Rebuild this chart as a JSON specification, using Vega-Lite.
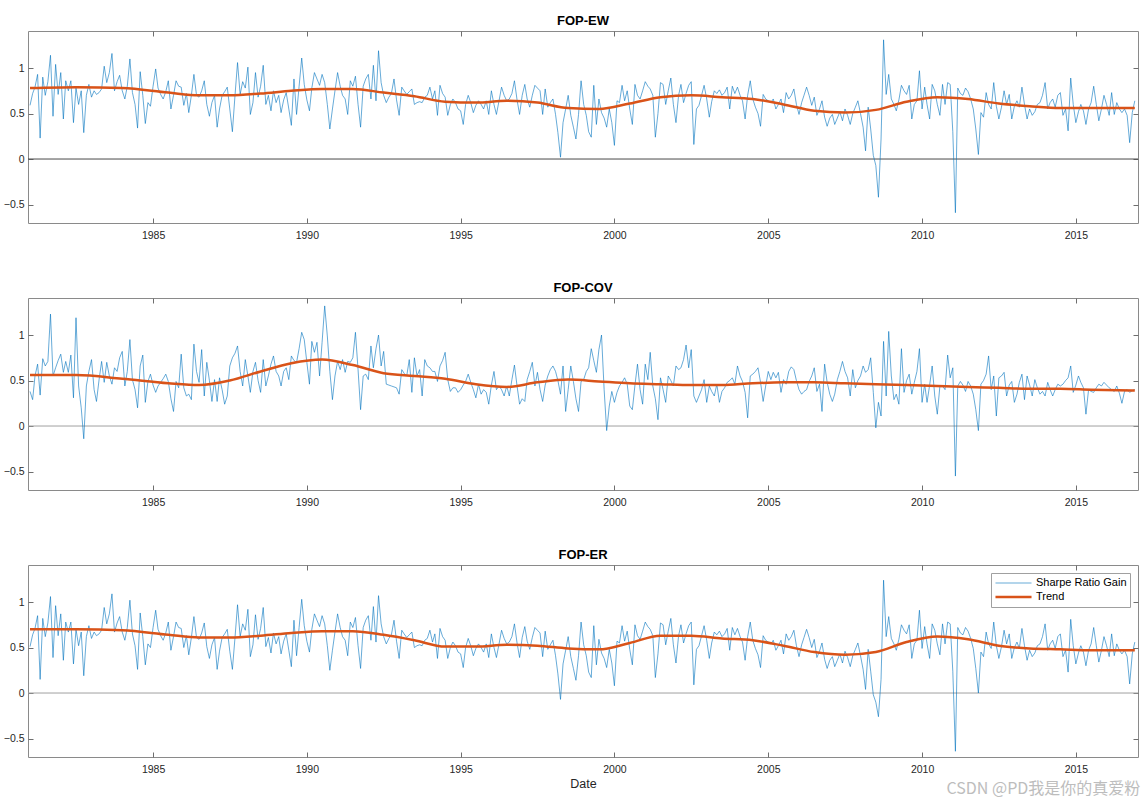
{
"$schema": "https://vega.github.io/schema/vega-lite/v6.json",
"background": "white",
"padding": {"left": 2, "top": 14, "right": 9, "bottom": 5},
"spacing": 40,
"title": {"text": "CSDN @PD我是你的真爱粉", "orient": "bottom", "anchor": "end", "offset": -10, "fontSize": 16, "color": "#bdbdbd", "font": "Noto Sans CJK SC", "fontWeight": "normal"},
"resolve": {"scale": {"color": "independent", "strokeWidth": "independent"}, "legend": {"color": "independent", "strokeWidth": "independent"}},
"config": {
 "view": {"stroke": "#8a8a8a", "strokeWidth": 1},
 "axis": {"labelFont": "Liberation Sans", "labelFontSize": 10.5, "labelColor": "#262626", "tickColor": "#6e6e6e", "domain": false, "grid": false, "tickSize": -5, "labelPadding": 9, "titleFont": "Liberation Sans", "titleFontSize": 12.5, "titleFontWeight": "normal", "titleColor": "#262626"},
 "axisX": {"labelPadding": 12},
 "title": {"font": "Liberation Sans", "fontSize": 13, "fontWeight": "bold", "color": "#000000", "offset": 3},
 "legend": {"labelFont": "Liberation Sans", "labelFontSize": 11, "labelColor": "#000000"}
},
"datasets": {
"m": [
{"d":"1981-01","a":0.59,"b":0.38,"c":0.51},{"d":"1981-02","a":0.72,"b":0.29,"c":0.64},{"d":"1981-03","a":0.79,"b":0.55,"c":0.71},{"d":"1981-04","a":0.93,"b":0.68,"c":0.85},{"d":"1981-05","a":0.23,"b":0.34,"c":0.15},{"d":"1981-06","a":0.90,"b":0.74,"c":0.82},{"d":"1981-07","a":0.70,"b":0.66,"c":0.62},{"d":"1981-08","a":0.85,"b":0.71,"c":0.77},{"d":"1981-09","a":1.14,"b":1.23,"c":1.06},{"d":"1981-10","a":0.47,"b":0.55,"c":0.39},{"d":"1981-11","a":1.04,"b":0.64,"c":0.96},{"d":"1981-12","a":0.71,"b":0.72,"c":0.63},
{"d":"1982-01","a":0.95,"b":0.79,"c":0.87},{"d":"1982-02","a":0.44,"b":0.59,"c":0.36},{"d":"1982-03","a":0.86,"b":0.71,"c":0.78},{"d":"1982-04","a":0.75,"b":0.59,"c":0.67},{"d":"1982-05","a":0.86,"b":0.78,"c":0.78},{"d":"1982-06","a":0.40,"b":0.31,"c":0.32},{"d":"1982-07","a":0.78,"b":1.19,"c":0.70},{"d":"1982-08","a":0.60,"b":0.44,"c":0.52},{"d":"1982-09","a":0.75,"b":0.20,"c":0.67},{"d":"1982-10","a":0.29,"b":-0.14,"c":0.19},{"d":"1982-11","a":0.70,"b":0.44,"c":0.62},{"d":"1982-12","a":0.82,"b":0.60,"c":0.74},
{"d":"1983-01","a":0.68,"b":0.73,"c":0.60},{"d":"1983-02","a":0.75,"b":0.40,"c":0.67},{"d":"1983-03","a":0.71,"b":0.27,"c":0.63},{"d":"1983-04","a":0.73,"b":0.51,"c":0.65},{"d":"1983-05","a":0.77,"b":0.71,"c":0.69},{"d":"1983-06","a":1.02,"b":0.48,"c":0.94},{"d":"1983-07","a":0.84,"b":0.70,"c":0.76},{"d":"1983-08","a":0.95,"b":0.55,"c":0.87},{"d":"1983-09","a":1.16,"b":0.46,"c":1.09},{"d":"1983-10","a":0.75,"b":0.64,"c":0.67},{"d":"1983-11","a":0.85,"b":0.60,"c":0.77},{"d":"1983-12","a":0.92,"b":0.75,"c":0.84},
{"d":"1984-01","a":0.75,"b":0.82,"c":0.67},{"d":"1984-02","a":0.66,"b":0.44,"c":0.58},{"d":"1984-03","a":0.80,"b":0.60,"c":0.72},{"d":"1984-04","a":1.10,"b":0.95,"c":1.02},{"d":"1984-05","a":0.73,"b":0.51,"c":0.65},{"d":"1984-06","a":0.60,"b":0.40,"c":0.52},{"d":"1984-07","a":0.34,"b":0.20,"c":0.26},{"d":"1984-08","a":0.96,"b":0.66,"c":0.88},{"d":"1984-09","a":0.70,"b":0.78,"c":0.62},{"d":"1984-10","a":0.39,"b":0.26,"c":0.31},{"d":"1984-11","a":0.62,"b":0.49,"c":0.54},{"d":"1984-12","a":0.58,"b":0.57,"c":0.50},
{"d":"1985-01","a":0.80,"b":0.45,"c":0.72},{"d":"1985-02","a":0.99,"b":0.37,"c":0.91},{"d":"1985-03","a":0.78,"b":0.44,"c":0.70},{"d":"1985-04","a":0.71,"b":0.48,"c":0.63},{"d":"1985-05","a":0.66,"b":0.52,"c":0.58},{"d":"1985-06","a":0.74,"b":0.57,"c":0.66},{"d":"1985-07","a":0.86,"b":0.49,"c":0.78},{"d":"1985-08","a":0.55,"b":0.30,"c":0.47},{"d":"1985-09","a":0.70,"b":0.16,"c":0.62},{"d":"1985-10","a":0.86,"b":0.49,"c":0.78},{"d":"1985-11","a":0.80,"b":0.42,"c":0.72},{"d":"1985-12","a":0.79,"b":0.79,"c":0.71},
{"d":"1986-01","a":0.59,"b":0.42,"c":0.50},{"d":"1986-02","a":0.72,"b":0.33,"c":0.63},{"d":"1986-03","a":0.51,"b":0.35,"c":0.42},{"d":"1986-04","a":0.70,"b":0.29,"c":0.61},{"d":"1986-05","a":0.93,"b":0.90,"c":0.84},{"d":"1986-06","a":0.70,"b":0.60,"c":0.61},{"d":"1986-07","a":0.68,"b":0.48,"c":0.59},{"d":"1986-08","a":0.75,"b":0.84,"c":0.66},{"d":"1986-09","a":0.86,"b":0.33,"c":0.77},{"d":"1986-10","a":0.60,"b":0.70,"c":0.51},{"d":"1986-11","a":0.47,"b":0.50,"c":0.38},{"d":"1986-12","a":0.62,"b":0.27,"c":0.53},
{"d":"1987-01","a":0.70,"b":0.51,"c":0.61},{"d":"1987-02","a":0.35,"b":0.27,"c":0.26},{"d":"1987-03","a":0.55,"b":0.53,"c":0.46},{"d":"1987-04","a":0.70,"b":0.40,"c":0.61},{"d":"1987-05","a":0.74,"b":0.24,"c":0.65},{"d":"1987-06","a":0.79,"b":0.33,"c":0.70},{"d":"1987-07","a":0.55,"b":0.66,"c":0.46},{"d":"1987-08","a":0.30,"b":0.75,"c":0.26},{"d":"1987-09","a":0.70,"b":0.80,"c":0.61},{"d":"1987-10","a":1.06,"b":0.88,"c":0.97},{"d":"1987-11","a":0.71,"b":0.60,"c":0.62},{"d":"1987-12","a":0.85,"b":0.44,"c":0.76},
{"d":"1988-01","a":0.78,"b":0.73,"c":0.69},{"d":"1988-02","a":1.01,"b":0.55,"c":0.92},{"d":"1988-03","a":0.49,"b":0.37,"c":0.40},{"d":"1988-04","a":0.62,"b":0.60,"c":0.53},{"d":"1988-05","a":0.95,"b":0.70,"c":0.86},{"d":"1988-06","a":0.68,"b":0.50,"c":0.59},{"d":"1988-07","a":0.80,"b":0.37,"c":0.71},{"d":"1988-08","a":1.03,"b":0.73,"c":0.94},{"d":"1988-09","a":0.60,"b":0.44,"c":0.51},{"d":"1988-10","a":0.70,"b":0.55,"c":0.61},{"d":"1988-11","a":0.53,"b":0.68,"c":0.44},{"d":"1988-12","a":0.75,"b":0.77,"c":0.66},
{"d":"1989-01","a":0.62,"b":0.60,"c":0.54},{"d":"1989-02","a":0.70,"b":0.55,"c":0.62},{"d":"1989-03","a":0.51,"b":0.44,"c":0.43},{"d":"1989-04","a":0.65,"b":0.60,"c":0.57},{"d":"1989-05","a":0.73,"b":0.64,"c":0.65},{"d":"1989-06","a":0.55,"b":0.51,"c":0.47},{"d":"1989-07","a":0.37,"b":0.77,"c":0.29},{"d":"1989-08","a":0.88,"b":0.72,"c":0.80},{"d":"1989-09","a":0.49,"b":0.70,"c":0.41},{"d":"1989-10","a":0.80,"b":0.85,"c":0.72},{"d":"1989-11","a":1.11,"b":1.03,"c":1.03},{"d":"1989-12","a":0.82,"b":0.95,"c":0.74},
{"d":"1990-01","a":0.65,"b":0.70,"c":0.57},{"d":"1990-02","a":0.53,"b":0.46,"c":0.45},{"d":"1990-03","a":0.78,"b":0.93,"c":0.70},{"d":"1990-04","a":0.95,"b":0.81,"c":0.87},{"d":"1990-05","a":0.88,"b":0.92,"c":0.80},{"d":"1990-06","a":0.81,"b":0.55,"c":0.73},{"d":"1990-07","a":0.93,"b":0.92,"c":0.85},{"d":"1990-08","a":0.84,"b":1.32,"c":0.76},{"d":"1990-09","a":0.60,"b":0.99,"c":0.52},{"d":"1990-10","a":0.33,"b":0.60,"c":0.25},{"d":"1990-11","a":0.55,"b":0.29,"c":0.47},{"d":"1990-12","a":0.75,"b":0.55,"c":0.67},
{"d":"1991-01","a":0.95,"b":0.71,"c":0.87},{"d":"1991-02","a":0.80,"b":0.62,"c":0.72},{"d":"1991-03","a":0.70,"b":0.73,"c":0.62},{"d":"1991-04","a":0.66,"b":0.59,"c":0.58},{"d":"1991-05","a":0.49,"b":0.71,"c":0.41},{"d":"1991-06","a":0.86,"b":0.70,"c":0.78},{"d":"1991-07","a":0.80,"b":0.75,"c":0.72},{"d":"1991-08","a":0.91,"b":1.03,"c":0.83},{"d":"1991-09","a":0.60,"b":0.62,"c":0.52},{"d":"1991-10","a":0.35,"b":0.18,"c":0.27},{"d":"1991-11","a":0.80,"b":0.55,"c":0.72},{"d":"1991-12","a":0.88,"b":0.57,"c":0.80},
{"d":"1992-01","a":0.93,"b":0.51,"c":0.85},{"d":"1992-02","a":0.66,"b":0.88,"c":0.58},{"d":"1992-03","a":1.03,"b":0.64,"c":0.95},{"d":"1992-04","a":0.64,"b":0.85,"c":0.56},{"d":"1992-05","a":1.19,"b":1.00,"c":1.07},{"d":"1992-06","a":0.84,"b":0.66,"c":0.76},{"d":"1992-07","a":0.70,"b":0.82,"c":0.62},{"d":"1992-08","a":0.62,"b":0.46,"c":0.54},{"d":"1992-09","a":0.68,"b":0.45,"c":0.60},{"d":"1992-10","a":0.72,"b":0.44,"c":0.64},{"d":"1992-11","a":0.88,"b":0.43,"c":0.80},{"d":"1992-12","a":0.65,"b":0.42,"c":0.57},
{"d":"1993-01","a":0.48,"b":0.35,"c":0.38},{"d":"1993-02","a":0.79,"b":0.62,"c":0.69},{"d":"1993-03","a":0.75,"b":0.58,"c":0.65},{"d":"1993-04","a":0.71,"b":0.55,"c":0.61},{"d":"1993-05","a":0.74,"b":0.73,"c":0.64},{"d":"1993-06","a":0.77,"b":0.37,"c":0.67},{"d":"1993-07","a":0.60,"b":0.75,"c":0.50},{"d":"1993-08","a":0.62,"b":0.55,"c":0.52},{"d":"1993-09","a":0.63,"b":0.62,"c":0.53},{"d":"1993-10","a":0.62,"b":0.33,"c":0.52},{"d":"1993-11","a":0.68,"b":0.73,"c":0.58},{"d":"1993-12","a":0.70,"b":0.66,"c":0.60},
{"d":"1994-01","a":0.79,"b":0.64,"c":0.69},{"d":"1994-02","a":0.66,"b":0.60,"c":0.56},{"d":"1994-03","a":0.75,"b":0.60,"c":0.65},{"d":"1994-04","a":0.48,"b":0.49,"c":0.38},{"d":"1994-05","a":0.81,"b":0.66,"c":0.71},{"d":"1994-06","a":0.72,"b":0.72,"c":0.62},{"d":"1994-07","a":0.68,"b":0.81,"c":0.58},{"d":"1994-08","a":0.48,"b":0.51,"c":0.38},{"d":"1994-09","a":0.60,"b":0.38,"c":0.50},{"d":"1994-10","a":0.66,"b":0.42,"c":0.56},{"d":"1994-11","a":0.62,"b":0.42,"c":0.52},{"d":"1994-12","a":0.55,"b":0.37,"c":0.45},
{"d":"1995-01","a":0.53,"b":0.40,"c":0.43},{"d":"1995-02","a":0.38,"b":0.45,"c":0.28},{"d":"1995-03","a":0.60,"b":0.49,"c":0.50},{"d":"1995-04","a":0.70,"b":0.57,"c":0.60},{"d":"1995-05","a":0.62,"b":0.48,"c":0.52},{"d":"1995-06","a":0.51,"b":0.40,"c":0.41},{"d":"1995-07","a":0.59,"b":0.31,"c":0.49},{"d":"1995-08","a":0.64,"b":0.46,"c":0.54},{"d":"1995-09","a":0.60,"b":0.35,"c":0.50},{"d":"1995-10","a":0.55,"b":0.40,"c":0.45},{"d":"1995-11","a":0.64,"b":0.37,"c":0.54},{"d":"1995-12","a":0.49,"b":0.24,"c":0.39},
{"d":"1996-01","a":0.75,"b":0.45,"c":0.65},{"d":"1996-02","a":0.60,"b":0.60,"c":0.50},{"d":"1996-03","a":0.49,"b":0.40,"c":0.39},{"d":"1996-04","a":0.64,"b":0.44,"c":0.54},{"d":"1996-05","a":0.79,"b":0.40,"c":0.69},{"d":"1996-06","a":0.70,"b":0.33,"c":0.60},{"d":"1996-07","a":0.64,"b":0.44,"c":0.54},{"d":"1996-08","a":0.66,"b":0.33,"c":0.56},{"d":"1996-09","a":0.72,"b":0.51,"c":0.62},{"d":"1996-10","a":0.86,"b":0.67,"c":0.76},{"d":"1996-11","a":0.65,"b":0.44,"c":0.55},{"d":"1996-12","a":0.49,"b":0.24,"c":0.39},
{"d":"1997-01","a":0.70,"b":0.30,"c":0.61},{"d":"1997-02","a":0.82,"b":0.27,"c":0.73},{"d":"1997-03","a":0.66,"b":0.51,"c":0.57},{"d":"1997-04","a":0.57,"b":0.60,"c":0.48},{"d":"1997-05","a":0.70,"b":0.70,"c":0.61},{"d":"1997-06","a":0.81,"b":0.44,"c":0.72},{"d":"1997-07","a":0.78,"b":0.59,"c":0.69},{"d":"1997-08","a":0.75,"b":0.40,"c":0.66},{"d":"1997-09","a":0.49,"b":0.27,"c":0.40},{"d":"1997-10","a":0.77,"b":0.45,"c":0.68},{"d":"1997-11","a":0.57,"b":0.55,"c":0.48},{"d":"1997-12","a":0.62,"b":0.62,"c":0.53},
{"d":"1998-01","a":0.66,"b":0.66,"c":0.58},{"d":"1998-02","a":0.49,"b":0.60,"c":0.41},{"d":"1998-03","a":0.29,"b":0.50,"c":0.21},{"d":"1998-04","a":0.02,"b":0.35,"c":-0.07},{"d":"1998-05","a":0.40,"b":0.66,"c":0.32},{"d":"1998-06","a":0.55,"b":0.16,"c":0.47},{"d":"1998-07","a":0.70,"b":0.40,"c":0.62},{"d":"1998-08","a":0.48,"b":0.66,"c":0.40},{"d":"1998-09","a":0.35,"b":0.49,"c":0.27},{"d":"1998-10","a":0.22,"b":0.30,"c":0.14},{"d":"1998-11","a":0.49,"b":0.16,"c":0.41},{"d":"1998-12","a":0.86,"b":0.49,"c":0.78},
{"d":"1999-01","a":0.60,"b":0.51,"c":0.53},{"d":"1999-02","a":0.48,"b":0.60,"c":0.41},{"d":"1999-03","a":0.30,"b":0.64,"c":0.23},{"d":"1999-04","a":0.24,"b":0.85,"c":0.17},{"d":"1999-05","a":0.81,"b":0.72,"c":0.74},{"d":"1999-06","a":0.38,"b":0.59,"c":0.31},{"d":"1999-07","a":0.66,"b":0.84,"c":0.59},{"d":"1999-08","a":0.51,"b":1.00,"c":0.44},{"d":"1999-09","a":0.45,"b":0.40,"c":0.38},{"d":"1999-10","a":0.35,"b":-0.05,"c":0.28},{"d":"1999-11","a":0.55,"b":0.22,"c":0.48},{"d":"1999-12","a":0.40,"b":0.38,"c":0.33},
{"d":"2000-01","a":0.15,"b":0.26,"c":0.08},{"d":"2000-02","a":0.64,"b":0.37,"c":0.57},{"d":"2000-03","a":0.62,"b":0.44,"c":0.55},{"d":"2000-04","a":0.81,"b":0.48,"c":0.74},{"d":"2000-05","a":0.64,"b":0.53,"c":0.57},{"d":"2000-06","a":0.75,"b":0.46,"c":0.68},{"d":"2000-07","a":0.55,"b":0.22,"c":0.48},{"d":"2000-08","a":0.38,"b":0.18,"c":0.31},{"d":"2000-09","a":0.82,"b":0.45,"c":0.75},{"d":"2000-10","a":0.70,"b":0.68,"c":0.63},{"d":"2000-11","a":0.66,"b":0.40,"c":0.59},{"d":"2000-12","a":0.75,"b":0.24,"c":0.68},
{"d":"2001-01","a":0.85,"b":0.68,"c":0.78},{"d":"2001-02","a":0.80,"b":0.51,"c":0.73},{"d":"2001-03","a":0.77,"b":0.81,"c":0.70},{"d":"2001-04","a":0.70,"b":0.44,"c":0.63},{"d":"2001-05","a":0.24,"b":0.30,"c":0.17},{"d":"2001-06","a":0.50,"b":0.07,"c":0.43},{"d":"2001-07","a":0.84,"b":0.53,"c":0.77},{"d":"2001-08","a":0.82,"b":0.40,"c":0.75},{"d":"2001-09","a":0.60,"b":0.26,"c":0.53},{"d":"2001-10","a":0.75,"b":0.55,"c":0.68},{"d":"2001-11","a":0.89,"b":0.50,"c":0.82},{"d":"2001-12","a":0.60,"b":0.44,"c":0.53},
{"d":"2002-01","a":0.40,"b":0.66,"c":0.33},{"d":"2002-02","a":0.70,"b":0.62,"c":0.63},{"d":"2002-03","a":0.82,"b":0.64,"c":0.75},{"d":"2002-04","a":0.62,"b":0.73,"c":0.55},{"d":"2002-05","a":0.72,"b":0.89,"c":0.65},{"d":"2002-06","a":0.81,"b":0.64,"c":0.74},{"d":"2002-07","a":0.85,"b":0.84,"c":0.78},{"d":"2002-08","a":0.16,"b":0.33,"c":0.09},{"d":"2002-09","a":0.55,"b":0.26,"c":0.48},{"d":"2002-10","a":0.59,"b":0.33,"c":0.52},{"d":"2002-11","a":0.70,"b":0.40,"c":0.63},{"d":"2002-12","a":0.81,"b":0.51,"c":0.74},
{"d":"2003-01","a":0.66,"b":0.26,"c":0.58},{"d":"2003-02","a":0.46,"b":0.44,"c":0.38},{"d":"2003-03","a":0.63,"b":0.38,"c":0.55},{"d":"2003-04","a":0.75,"b":0.33,"c":0.67},{"d":"2003-05","a":0.72,"b":0.46,"c":0.64},{"d":"2003-06","a":0.76,"b":0.26,"c":0.68},{"d":"2003-07","a":0.70,"b":0.38,"c":0.62},{"d":"2003-08","a":0.73,"b":0.42,"c":0.65},{"d":"2003-09","a":0.79,"b":0.48,"c":0.71},{"d":"2003-10","a":0.55,"b":0.50,"c":0.47},{"d":"2003-11","a":0.80,"b":0.53,"c":0.72},{"d":"2003-12","a":0.72,"b":0.46,"c":0.64},
{"d":"2004-01","a":0.79,"b":0.66,"c":0.71},{"d":"2004-02","a":0.70,"b":0.55,"c":0.62},{"d":"2004-03","a":0.64,"b":0.49,"c":0.56},{"d":"2004-04","a":0.44,"b":0.37,"c":0.36},{"d":"2004-05","a":0.70,"b":0.09,"c":0.62},{"d":"2004-06","a":0.86,"b":0.55,"c":0.78},{"d":"2004-07","a":0.66,"b":0.57,"c":0.58},{"d":"2004-08","a":0.57,"b":0.60,"c":0.49},{"d":"2004-09","a":0.50,"b":0.64,"c":0.42},{"d":"2004-10","a":0.36,"b":0.48,"c":0.28},{"d":"2004-11","a":0.71,"b":0.27,"c":0.63},{"d":"2004-12","a":0.66,"b":0.44,"c":0.58},
{"d":"2005-01","a":0.64,"b":0.60,"c":0.56},{"d":"2005-02","a":0.62,"b":0.51,"c":0.54},{"d":"2005-03","a":0.66,"b":0.59,"c":0.58},{"d":"2005-04","a":0.55,"b":0.53,"c":0.47},{"d":"2005-05","a":0.60,"b":0.59,"c":0.52},{"d":"2005-06","a":0.66,"b":0.37,"c":0.58},{"d":"2005-07","a":0.51,"b":0.51,"c":0.43},{"d":"2005-08","a":0.73,"b":0.46,"c":0.65},{"d":"2005-09","a":0.66,"b":0.60,"c":0.58},{"d":"2005-10","a":0.70,"b":0.65,"c":0.62},{"d":"2005-11","a":0.77,"b":0.62,"c":0.69},{"d":"2005-12","a":0.60,"b":0.50,"c":0.52},
{"d":"2006-01","a":0.49,"b":0.40,"c":0.40},{"d":"2006-02","a":0.62,"b":0.35,"c":0.53},{"d":"2006-03","a":0.70,"b":0.38,"c":0.61},{"d":"2006-04","a":0.79,"b":0.40,"c":0.70},{"d":"2006-05","a":0.70,"b":0.49,"c":0.61},{"d":"2006-06","a":0.59,"b":0.55,"c":0.50},{"d":"2006-07","a":0.68,"b":0.64,"c":0.59},{"d":"2006-08","a":0.48,"b":0.38,"c":0.39},{"d":"2006-09","a":0.55,"b":0.46,"c":0.46},{"d":"2006-10","a":0.64,"b":0.16,"c":0.55},{"d":"2006-11","a":0.46,"b":0.68,"c":0.37},{"d":"2006-12","a":0.36,"b":0.48,"c":0.27},
{"d":"2007-01","a":0.45,"b":0.35,"c":0.36},{"d":"2007-02","a":0.49,"b":0.27,"c":0.40},{"d":"2007-03","a":0.38,"b":0.35,"c":0.29},{"d":"2007-04","a":0.45,"b":0.51,"c":0.36},{"d":"2007-05","a":0.52,"b":0.60,"c":0.43},{"d":"2007-06","a":0.42,"b":0.71,"c":0.33},{"d":"2007-07","a":0.55,"b":0.60,"c":0.46},{"d":"2007-08","a":0.48,"b":0.53,"c":0.39},{"d":"2007-09","a":0.38,"b":0.33,"c":0.29},{"d":"2007-10","a":0.50,"b":0.62,"c":0.41},{"d":"2007-11","a":0.57,"b":0.42,"c":0.48},{"d":"2007-12","a":0.64,"b":0.50,"c":0.55},
{"d":"2008-01","a":0.50,"b":0.55,"c":0.41},{"d":"2008-02","a":0.35,"b":0.66,"c":0.26},{"d":"2008-03","a":0.09,"b":0.59,"c":0.04},{"d":"2008-04","a":0.57,"b":0.62,"c":0.48},{"d":"2008-05","a":0.33,"b":0.75,"c":0.24},{"d":"2008-06","a":0.04,"b":0.37,"c":-0.02},{"d":"2008-07","a":-0.07,"b":-0.02,"c":-0.10},{"d":"2008-08","a":-0.42,"b":0.26,"c":-0.26},{"d":"2008-09","a":0.22,"b":0.11,"c":0.15},{"d":"2008-10","a":1.31,"b":0.93,"c":1.24},{"d":"2008-11","a":0.71,"b":0.33,"c":0.62},{"d":"2008-12","a":0.93,"b":1.04,"c":0.84},
{"d":"2009-01","a":0.66,"b":0.55,"c":0.60},{"d":"2009-02","a":0.60,"b":0.29,"c":0.54},{"d":"2009-03","a":0.53,"b":0.35,"c":0.47},{"d":"2009-04","a":0.65,"b":0.24,"c":0.59},{"d":"2009-05","a":0.81,"b":0.85,"c":0.75},{"d":"2009-06","a":0.75,"b":0.37,"c":0.69},{"d":"2009-07","a":0.71,"b":0.50,"c":0.65},{"d":"2009-08","a":0.81,"b":0.57,"c":0.75},{"d":"2009-09","a":0.44,"b":0.35,"c":0.38},{"d":"2009-10","a":0.60,"b":0.48,"c":0.54},{"d":"2009-11","a":0.64,"b":0.60,"c":0.58},{"d":"2009-12","a":0.97,"b":0.85,"c":0.91},
{"d":"2010-01","a":0.55,"b":0.26,"c":0.49},{"d":"2010-02","a":0.79,"b":0.46,"c":0.73},{"d":"2010-03","a":0.60,"b":0.26,"c":0.54},{"d":"2010-04","a":0.44,"b":0.45,"c":0.38},{"d":"2010-05","a":0.82,"b":0.66,"c":0.76},{"d":"2010-06","a":0.75,"b":0.33,"c":0.69},{"d":"2010-07","a":0.60,"b":0.13,"c":0.54},{"d":"2010-08","a":0.48,"b":0.44,"c":0.42},{"d":"2010-09","a":0.82,"b":0.44,"c":0.76},{"d":"2010-10","a":0.60,"b":0.40,"c":0.54},{"d":"2010-11","a":0.84,"b":0.78,"c":0.78},{"d":"2010-12","a":0.82,"b":0.53,"c":0.76},
{"d":"2011-01","a":0.30,"b":0.64,"c":0.24},{"d":"2011-02","a":-0.59,"b":-0.55,"c":-0.64},{"d":"2011-03","a":0.78,"b":0.44,"c":0.72},{"d":"2011-04","a":0.72,"b":0.49,"c":0.66},{"d":"2011-05","a":0.70,"b":0.45,"c":0.64},{"d":"2011-06","a":0.78,"b":0.38,"c":0.72},{"d":"2011-07","a":0.74,"b":0.49,"c":0.68},{"d":"2011-08","a":0.66,"b":0.44,"c":0.60},{"d":"2011-09","a":0.55,"b":0.35,"c":0.49},{"d":"2011-10","a":0.33,"b":0.18,"c":0.27},{"d":"2011-11","a":0.05,"b":-0.05,"c":0.00},{"d":"2011-12","a":0.51,"b":0.46,"c":0.45},
{"d":"2012-01","a":0.46,"b":0.50,"c":0.40},{"d":"2012-02","a":0.73,"b":0.57,"c":0.67},{"d":"2012-03","a":0.60,"b":0.77,"c":0.54},{"d":"2012-04","a":0.55,"b":0.40,"c":0.49},{"d":"2012-05","a":0.84,"b":0.55,"c":0.78},{"d":"2012-06","a":0.58,"b":0.11,"c":0.52},{"d":"2012-07","a":0.44,"b":0.53,"c":0.38},{"d":"2012-08","a":0.57,"b":0.55,"c":0.51},{"d":"2012-09","a":0.75,"b":0.59,"c":0.69},{"d":"2012-10","a":0.60,"b":0.33,"c":0.54},{"d":"2012-11","a":0.71,"b":0.45,"c":0.65},{"d":"2012-12","a":0.44,"b":0.49,"c":0.38},
{"d":"2013-01","a":0.58,"b":0.26,"c":0.50},{"d":"2013-02","a":0.64,"b":0.35,"c":0.56},{"d":"2013-03","a":0.57,"b":0.48,"c":0.49},{"d":"2013-04","a":0.79,"b":0.57,"c":0.71},{"d":"2013-05","a":0.60,"b":0.29,"c":0.52},{"d":"2013-06","a":0.44,"b":0.55,"c":0.36},{"d":"2013-07","a":0.55,"b":0.45,"c":0.47},{"d":"2013-08","a":0.48,"b":0.33,"c":0.40},{"d":"2013-09","a":0.52,"b":0.51,"c":0.44},{"d":"2013-10","a":0.60,"b":0.42,"c":0.52},{"d":"2013-11","a":0.62,"b":0.35,"c":0.54},{"d":"2013-12","a":0.70,"b":0.38,"c":0.62},
{"d":"2014-01","a":0.84,"b":0.33,"c":0.76},{"d":"2014-02","a":0.55,"b":0.48,"c":0.47},{"d":"2014-03","a":0.62,"b":0.40,"c":0.54},{"d":"2014-04","a":0.66,"b":0.33,"c":0.58},{"d":"2014-05","a":0.57,"b":0.40,"c":0.49},{"d":"2014-06","a":0.70,"b":0.46,"c":0.62},{"d":"2014-07","a":0.73,"b":0.44,"c":0.65},{"d":"2014-08","a":0.48,"b":0.46,"c":0.40},{"d":"2014-09","a":0.55,"b":0.50,"c":0.47},{"d":"2014-10","a":0.31,"b":0.53,"c":0.23},{"d":"2014-11","a":0.89,"b":0.66,"c":0.81},{"d":"2014-12","a":0.60,"b":0.37,"c":0.52},
{"d":"2015-01","a":0.40,"b":0.45,"c":0.32},{"d":"2015-02","a":0.52,"b":0.55,"c":0.44},{"d":"2015-03","a":0.60,"b":0.48,"c":0.52},{"d":"2015-04","a":0.53,"b":0.42,"c":0.45},{"d":"2015-05","a":0.38,"b":0.13,"c":0.30},{"d":"2015-06","a":0.55,"b":0.40,"c":0.47},{"d":"2015-07","a":0.62,"b":0.38,"c":0.54},{"d":"2015-08","a":0.80,"b":0.37,"c":0.72},{"d":"2015-09","a":0.60,"b":0.42,"c":0.52},{"d":"2015-10","a":0.42,"b":0.46,"c":0.34},{"d":"2015-11","a":0.55,"b":0.44,"c":0.47},{"d":"2015-12","a":0.70,"b":0.48,"c":0.62},
{"d":"2016-01","a":0.60,"b":0.45,"c":0.52},{"d":"2016-02","a":0.48,"b":0.42,"c":0.40},{"d":"2016-03","a":0.73,"b":0.40,"c":0.65},{"d":"2016-04","a":0.49,"b":0.38,"c":0.41},{"d":"2016-05","a":0.62,"b":0.44,"c":0.54},{"d":"2016-06","a":0.55,"b":0.36,"c":0.47},{"d":"2016-07","a":0.51,"b":0.25,"c":0.43},{"d":"2016-08","a":0.55,"b":0.38,"c":0.47},{"d":"2016-09","a":0.48,"b":0.40,"c":0.40},{"d":"2016-10","a":0.18,"b":0.37,"c":0.10},{"d":"2016-11","a":0.51,"b":0.39,"c":0.43},{"d":"2016-12","a":0.64,"b":0.40,"c":0.56}
],
"t": [
{"d":"1981-01","a":0.78,"b":0.56,"c":0.70},{"d":"1982-07","a":0.79,"b":0.56,"c":0.70},{"d":"1984-01","a":0.78,"b":0.52,"c":0.69},{"d":"1985-07","a":0.73,"b":0.47,"c":0.64},{"d":"1986-07","a":0.70,"b":0.45,"c":0.61},{"d":"1987-07","a":0.70,"b":0.50,"c":0.61},{"d":"1988-07","a":0.72,"b":0.60,"c":0.63},{"d":"1989-07","a":0.75,"b":0.69,"c":0.66},{"d":"1990-07","a":0.77,"b":0.73,"c":0.68},{"d":"1991-07","a":0.77,"b":0.67,"c":0.68},{"d":"1992-07","a":0.73,"b":0.58,"c":0.64},{"d":"1993-07","a":0.69,"b":0.55,"c":0.58},{"d":"1994-07","a":0.63,"b":0.52,"c":0.51},{"d":"1995-07","a":0.62,"b":0.46,"c":0.51},{"d":"1996-07","a":0.64,"b":0.43,"c":0.53},{"d":"1997-07","a":0.62,"b":0.48,"c":0.52},{"d":"1998-07","a":0.56,"b":0.51,"c":0.49},{"d":"1999-07","a":0.55,"b":0.49,"c":0.48},{"d":"2000-07","a":0.61,"b":0.47,"c":0.55},{"d":"2001-07","a":0.68,"b":0.46,"c":0.63},{"d":"2002-07","a":0.70,"b":0.45,"c":0.63},{"d":"2003-07","a":0.68,"b":0.45,"c":0.60},{"d":"2004-07","a":0.66,"b":0.47,"c":0.58},{"d":"2005-07","a":0.60,"b":0.48,"c":0.52},{"d":"2006-07","a":0.53,"b":0.48,"c":0.45},{"d":"2007-07","a":0.51,"b":0.47,"c":0.42},{"d":"2008-07","a":0.54,"b":0.46,"c":0.45},{"d":"2009-07","a":0.63,"b":0.45,"c":0.56},{"d":"2010-07","a":0.68,"b":0.44,"c":0.62},{"d":"2011-07","a":0.66,"b":0.43,"c":0.59},{"d":"2012-07","a":0.61,"b":0.42,"c":0.52},{"d":"2013-07","a":0.58,"b":0.41,"c":0.49},{"d":"2014-07","a":0.56,"b":0.41,"c":0.48},{"d":"2015-07","a":0.56,"b":0.40,"c":0.47},{"d":"2016-12","a":0.56,"b":0.39,"c":0.47}
]
},
"vconcat": [
{
 "width": 1110, "height": 192,
 "title": "FOP-EW",
 "resolve": {"axis": {"x": "independent", "y": "independent"}},
 "layer": [
  {"data": {"values": [{}]}, "mark": {"type": "rule", "color": "#4a4a4a", "strokeWidth": 1}, "encoding": {"y": {"datum": 0, "type": "quantitative", "scale": {"domain": [-0.703, 1.407], "nice": false, "zero": false}, "axis": null}}},
  {"data": {"name": "m"}, "mark": {"type": "line", "color": "#0072BD", "strokeWidth": 0.6},
   "encoding": {
    "x": {"field": "d", "type": "temporal", "scale": {"type": "utc", "nice": false, "domain": [{"year": 1980, "month": 12, "date": 8, "utc": true}, {"year": 2017, "month": 1, "date": 8, "utc": true}]}, "axis": {"orient": "bottom", "title": null, "format": "%Y", "values": [{"year": 1985, "utc": true}, {"year": 1990, "utc": true}, {"year": 1995, "utc": true}, {"year": 2000, "utc": true}, {"year": 2005, "utc": true}, {"year": 2010, "utc": true}, {"year": 2015, "utc": true}]}},
    "y": {"field": "a", "type": "quantitative", "scale": {"domain": [-0.703, 1.407], "nice": false, "zero": false}, "axis": {"orient": "left", "title": null, "format": "~g", "values": [-0.5, 0, 0.5, 1]}}
   }},
  {"data": {"name": "t"}, "mark": {"type": "line", "color": "#D95319", "strokeWidth": 2.5, "interpolate": "monotone"},
   "encoding": {
    "x": {"field": "d", "type": "temporal", "axis": {"orient": "top", "title": null, "labels": false, "values": [{"year": 1985, "utc": true}, {"year": 1990, "utc": true}, {"year": 1995, "utc": true}, {"year": 2000, "utc": true}, {"year": 2005, "utc": true}, {"year": 2010, "utc": true}, {"year": 2015, "utc": true}]}},
    "y": {"field": "a", "type": "quantitative", "axis": {"orient": "right", "title": null, "labels": false, "values": [-0.5, 0, 0.5, 1]}}
   }}
 ]
},
{
 "width": 1110, "height": 192,
 "title": "FOP-COV",
 "resolve": {"axis": {"x": "independent", "y": "independent"}},
 "layer": [
  {"data": {"values": [{}]}, "mark": {"type": "rule", "color": "#a0a0a0", "strokeWidth": 1}, "encoding": {"y": {"datum": 0, "type": "quantitative", "scale": {"domain": [-0.703, 1.407], "nice": false, "zero": false}, "axis": null}}},
  {"data": {"name": "m"}, "mark": {"type": "line", "color": "#0072BD", "strokeWidth": 0.6},
   "encoding": {
    "x": {"field": "d", "type": "temporal", "scale": {"type": "utc", "nice": false, "domain": [{"year": 1980, "month": 12, "date": 8, "utc": true}, {"year": 2017, "month": 1, "date": 8, "utc": true}]}, "axis": {"orient": "bottom", "title": null, "format": "%Y", "values": [{"year": 1985, "utc": true}, {"year": 1990, "utc": true}, {"year": 1995, "utc": true}, {"year": 2000, "utc": true}, {"year": 2005, "utc": true}, {"year": 2010, "utc": true}, {"year": 2015, "utc": true}]}},
    "y": {"field": "b", "type": "quantitative", "scale": {"domain": [-0.703, 1.407], "nice": false, "zero": false}, "axis": {"orient": "left", "title": null, "format": "~g", "values": [-0.5, 0, 0.5, 1]}}
   }},
  {"data": {"name": "t"}, "mark": {"type": "line", "color": "#D95319", "strokeWidth": 2.5, "interpolate": "monotone"},
   "encoding": {
    "x": {"field": "d", "type": "temporal", "axis": {"orient": "top", "title": null, "labels": false, "values": [{"year": 1985, "utc": true}, {"year": 1990, "utc": true}, {"year": 1995, "utc": true}, {"year": 2000, "utc": true}, {"year": 2005, "utc": true}, {"year": 2010, "utc": true}, {"year": 2015, "utc": true}]}},
    "y": {"field": "b", "type": "quantitative", "axis": {"orient": "right", "title": null, "labels": false, "values": [-0.5, 0, 0.5, 1]}}
   }}
 ]
},
{
 "width": 1110, "height": 192,
 "title": "FOP-ER",
 "resolve": {"axis": {"x": "independent", "y": "independent"}},
 "layer": [
  {"data": {"values": [{}]}, "mark": {"type": "rule", "color": "#a0a0a0", "strokeWidth": 1}, "encoding": {"y": {"datum": 0, "type": "quantitative", "scale": {"domain": [-0.703, 1.407], "nice": false, "zero": false}, "axis": null}}},
  {"data": {"name": "m"}, "mark": {"type": "line"},
   "encoding": {
    "x": {"field": "d", "type": "temporal", "scale": {"type": "utc", "nice": false, "domain": [{"year": 1980, "month": 12, "date": 8, "utc": true}, {"year": 2017, "month": 1, "date": 8, "utc": true}]}, "axis": {"orient": "bottom", "title": "Date", "titlePadding": 3, "format": "%Y", "values": [{"year": 1985, "utc": true}, {"year": 1990, "utc": true}, {"year": 1995, "utc": true}, {"year": 2000, "utc": true}, {"year": 2005, "utc": true}, {"year": 2010, "utc": true}, {"year": 2015, "utc": true}]}},
    "y": {"field": "c", "type": "quantitative", "scale": {"domain": [-0.703, 1.407], "nice": false, "zero": false}, "axis": {"orient": "left", "title": null, "format": "~g", "values": [-0.5, 0, 0.5, 1]}},
    "color": {"datum": "Sharpe Ratio Gain", "scale": {"domain": ["Sharpe Ratio Gain", "Trend"], "range": ["#0072BD", "#D95319"]}, "legend": {"orient": "top-right", "offset": 8, "title": null, "fillColor": "white", "strokeColor": "#a0a0a0", "padding": 3, "symbolType": "stroke", "symbolSize": 1300, "clipHeight": 14, "rowPadding": 0, "labelOffset": 3}},
    "strokeWidth": {"datum": "Sharpe Ratio Gain", "scale": {"domain": ["Sharpe Ratio Gain", "Trend"], "range": [0.6, 2.5]}, "legend": {"orient": "top-right", "offset": 8, "title": null, "fillColor": "white", "strokeColor": "#a0a0a0", "padding": 3, "symbolType": "stroke", "symbolSize": 1300, "clipHeight": 14, "rowPadding": 0, "labelOffset": 3}}
   }},
  {"data": {"name": "t"}, "mark": {"type": "line", "interpolate": "monotone"},
   "encoding": {
    "x": {"field": "d", "type": "temporal", "axis": {"orient": "top", "title": null, "labels": false, "values": [{"year": 1985, "utc": true}, {"year": 1990, "utc": true}, {"year": 1995, "utc": true}, {"year": 2000, "utc": true}, {"year": 2005, "utc": true}, {"year": 2010, "utc": true}, {"year": 2015, "utc": true}]}},
    "y": {"field": "c", "type": "quantitative", "axis": {"orient": "right", "title": null, "labels": false, "values": [-0.5, 0, 0.5, 1]}},
    "color": {"datum": "Trend"},
    "strokeWidth": {"datum": "Trend"}
   }}
 ]
}
]
}
